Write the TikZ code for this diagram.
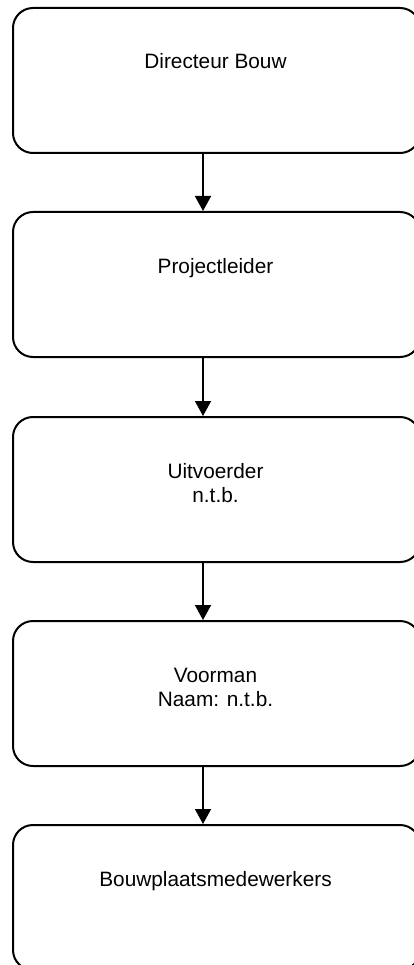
\documentclass[tikz,border=0pt]{standalone}
\usepackage{fontspec}
\setmainfont{Liberation Sans}
\usetikzlibrary{arrows.meta}
\begin{document}
\begin{tikzpicture}[x=1pt,y=-1pt,
  box/.style={draw=black, line width=2pt, rounded corners=20pt, rectangle,
    minimum width=407pt, minimum height=145pt, anchor=north west, inner sep=0pt},
  lbl/.style={anchor=base, align=center, inner sep=0pt,
    font=\fontsize{20.8}{24}\selectfont},
  conn/.style={line width=1.6pt, -{Triangle[width=16pt,length=15pt]}}]
\useasboundingbox (0,0) rectangle (413,965);
\node[box] (b1) at (12,7) {};
\node[box] (b2) at (12,211) {};
\node[box] (b3) at (12,416) {};
\node[box] (b4) at (12,620) {};
\node[box] (b5) at (12,824) {};
\node[lbl] (t1) at (215.5,69) {Directeur Bouw};
\node[lbl] (t2) at (215.5,273) {Projectleider};
\node[lbl] (t3) at (215.5,502) {Uitvoerder\\n.t.b.};
\node[lbl] (t4) at (215.5,706) {Voorman\\Naam: n.t.b.};
\node[lbl] (t5) at (215.5,886) {Bouwplaatsmedewerkers};
\foreach \a/\b in {b1/b2,b2/b3,b3/b4,b4/b5}
  \draw[conn] ([xshift=-13.5pt]\a.south) -- ([xshift=-13.5pt]\b.north);
\end{tikzpicture}
\end{document}
